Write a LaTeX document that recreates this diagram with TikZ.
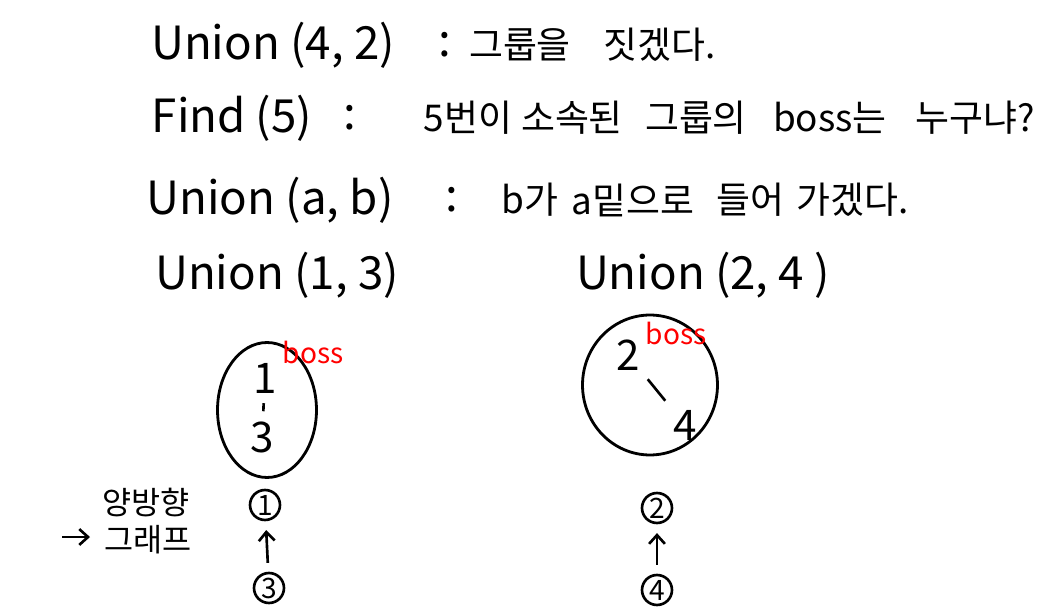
\documentclass[tikz,border=0pt]{standalone}
\usepackage{fontspec}
\setmainfont{Noto Sans CJK KR}
\usetikzlibrary{arrows.meta, shapes.geometric}

\begin{document}
\begin{tikzpicture}[
  x = 0.02cm, y = -0.02cm,
  line width = 1.6pt,
  every node/.style = {inner sep = 0pt},
  latin/.style = {font = \fontsize{26}{30}\selectfont},
  hangul/.style = {font = \fontsize{21}{24}\selectfont},
  member/.style = {font = \fontsize{24}{28}\selectfont},
  bosstag/.style = {text = red, font = \fontsize{16}{18}\selectfont},
  group/.style = {draw, ellipse, line width = 1.6pt},
  vertex/.style = {draw, circle, minimum size = 0.6cm, line width = 1.5pt,
                   font = \fontsize{16}{18}\selectfont},
  link/.style = {line width = 1.5pt},
  ]
  \useasboundingbox (0,0) rectangle (1046,608);

  \node[latin]  (u42)   at (273,45)  {Union (4, 2)};
  \node[latin]  (col1)  at (445,45)  {:};
  \node[hangul] (grp)   at (520,45)  {그룹을};
  \node[hangul] (make)  at (660,45)  {짓겠다.};

  \node[latin]  (find)  at (232,118) {Find (5)};
  \node[latin]  (col2)  at (350,118) {:};
  \node[hangul] (no5)   at (468,118) {5번이};
  \node[hangul] (belong) at (572,118) {소속된};
  \node[hangul] (grpof) at (696,118) {그룹의};
  \node[hangul] (boss)  at (830,118) {boss는};
  \node[hangul] (who)   at (975,118) {누구냐?};

  \node[latin]  (uab)   at (270,200) {Union (a, b)};
  \node[latin]  (col3)  at (452,200) {:};
  \node[hangul] (bga)   at (530,200) {b가};
  \node[hangul] (under) at (633,200) {a밑으로};
  \node[hangul] (enter) at (750,200) {들어};
  \node[hangul] (go)    at (853,200) {가겠다.};

  \node[latin]  (u13)   at (277,275) {Union (1, 3)};
  \node[latin]  (u24)   at (703,275) {Union (2, 4 )};

  \node[group, minimum width = 1.98cm, minimum height = 2.7cm] (setA) at (267,410) {};
  \node[member] (a1) at (265,378) {1};
  \node[member] (a3) at (262,437) {3};
  \draw[link, shorten <= 5pt, shorten >= 5pt] (a1) -- (a3);
  \node[bosstag] (bossA) at (313,352) {boss};

  \node[group, minimum width = 2.7cm, minimum height = 2.8cm] (setB) at (650,385) {};
  \node[member] (b2) at (628,355) {2};
  \node[member] (b4) at (685,425) {4};
  \draw[link, shorten <= 6pt, shorten >= 6pt] (b2) -- (b4);
  \node[bosstag] (bossB) at (676,333) {boss};

  \node[hangul, font = \fontsize{18}{21}\selectfont] (oneway) at (146,503) {양방향};
  \node[hangul, font = \fontsize{18}{21}\selectfont] (graph)  at (148,540) {그래프};
  \coordinate (tail) at (62,537);
  \draw[link, -{Straight Barb[length = 5pt, width = 9pt]}] (tail) -- (90,537);

  \node[vertex] (n1) at (265,505) {1};
  \node[vertex] (n3) at (269,588) {3};
  \draw[link, -{Straight Barb[length = 5pt, width = 9pt]}, shorten <= 5pt, shorten >= 5pt] (n3) -- (n1);

  \node[vertex] (n2) at (657,508) {2};
  \node[vertex] (n4) at (657,590) {4};
  \draw[link, -{Straight Barb[length = 5pt, width = 9pt]}, shorten <= 5pt, shorten >= 5pt] (n4) -- (n2);
\end{tikzpicture}
\end{document}
